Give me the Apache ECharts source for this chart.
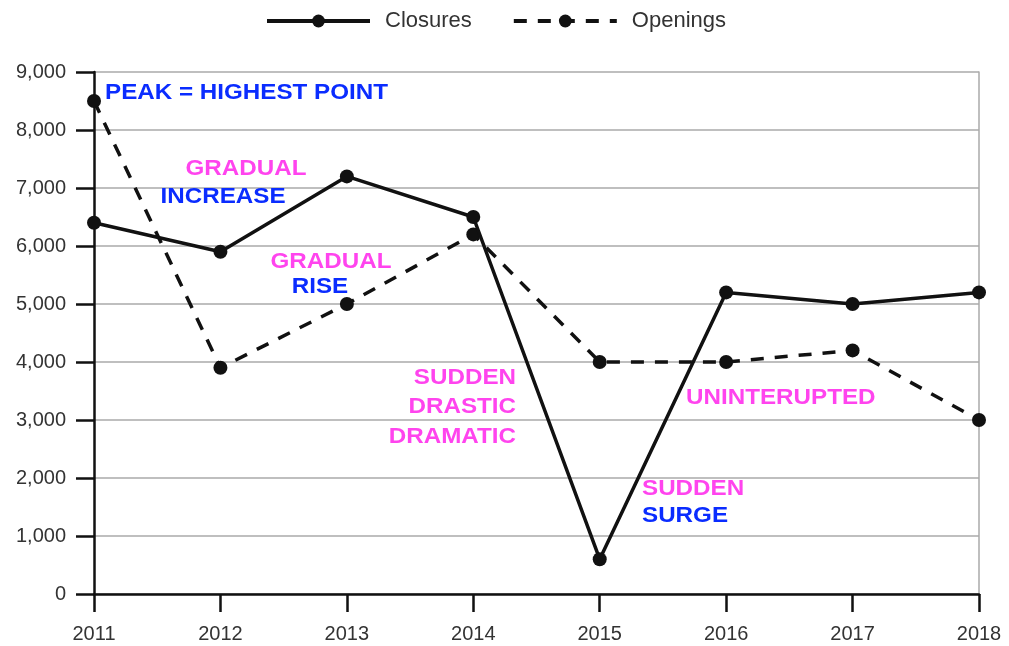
<!DOCTYPE html>
<html><head><meta charset="utf-8">
<script src="https://cdn.jsdelivr.net/npm/echarts@6/dist/echarts.min.js"></script>
<style>html,body{margin:0;padding:0;background:#fff}#c{width:1009px;height:646px}</style>
</head><body><div id="c"></div>
<script>
const years = ['2011','2012','2013','2014','2015','2016','2017','2018'];
const closures = [6400, 5900, 7200, 6500, 600, 5200, 5000, 5200];
const openings = [8500, 3900, 5000, 6200, 4000, 4000, 4200, 3000];
const yTicks = [0, 1000, 2000, 3000, 4000, 5000, 6000, 7000, 8000, 9000];

const BLUE = '#0a2cff', PINK = '#ff44ee';
const chart = echarts.init(document.getElementById('c'));
const font = 'Liberation Sans, Arial, sans-serif';
function t(x, y, text, color, align) {
  return { type: 'text', x: x, y: y, scaleX: 1.1, style: { text: text, fill: color, font: 'bold 22px ' + font, textAlign: align || 'left', textVerticalAlign: 'middle' }, z: 100 };
}
chart.setOption({
  animation: false,
  legend: {
    top: 5, left: 260, itemWidth: 103, itemHeight: 16, itemGap: 40,
    lineStyle: { width: 4 },
    textStyle: { fontSize: 22, color: '#333', fontFamily: font, padding: [0, 0, 0, 10] },
    data: ['Closures', 'Openings']
  },
  grid: { left: 94, right: 30, top: 72, bottom: 52 },
  xAxis: {
    type: 'category', data: years, boundaryGap: false,
    axisLine: { lineStyle: { color: '#111', width: 2.5 } },
    axisTick: { show: true, length: 18, alignWithLabel: true, lineStyle: { color: '#111', width: 2.5 } },
    axisLabel: { fontSize: 20, color: '#333', fontFamily: font, margin: 30 },
    splitLine: { show: false }
  },
  yAxis: [{
    type: 'value', min: 0, max: 9000, interval: 1000,
    axisLine: { show: true, lineStyle: { color: '#111', width: 2.5 } },
    axisTick: { show: true, length: 18, lineStyle: { color: '#111', width: 2.5 } },
    axisLabel: { fontSize: 20, color: '#333', fontFamily: font, margin: 28,
      formatter: v => yTicks.includes(v) ? v.toLocaleString('en-US') : '' },
    splitLine: { show: true, lineStyle: { color: '#aaa', width: 1.5 } }
  }, {
    type: 'value', min: 0, max: 9000, interval: 1000, position: 'right',
    axisLine: { show: true, lineStyle: { color: '#aaa', width: 1.5 } },
    axisTick: { show: false }, axisLabel: { show: false }, splitLine: { show: false }
  }],
  series: [{
    name: 'Closures', type: 'line', data: closures,
    symbol: 'circle', symbolSize: 14,
    lineStyle: { color: '#111', width: 3.5 }, itemStyle: { color: '#111' }, z: 5
  }, {
    name: 'Openings', type: 'line', data: openings,
    symbol: 'circle', symbolSize: 14,
    lineStyle: { color: '#111', width: 3.5, type: [13, 11] }, itemStyle: { color: '#111' }, z: 4
  }],
  graphic: [
    t(105, 93, 'PEAK = HIGHEST POINT', BLUE),
    t(246, 169, 'GRADUAL', PINK, 'center'),
    t(223, 197, 'INCREASE', BLUE, 'center'),
    t(331, 262, 'GRADUAL', PINK, 'center'),
    t(320, 287, 'RISE', BLUE, 'center'),
    t(516, 378, 'SUDDEN', PINK, 'right'),
    t(516, 407, 'DRASTIC', PINK, 'right'),
    t(516, 437, 'DRAMATIC', PINK, 'right'),
    t(686, 398, 'UNINTERUPTED', PINK),
    t(642, 489, 'SUDDEN', PINK),
    t(642, 516, 'SURGE', BLUE)
  ]
});
</script></body></html>
